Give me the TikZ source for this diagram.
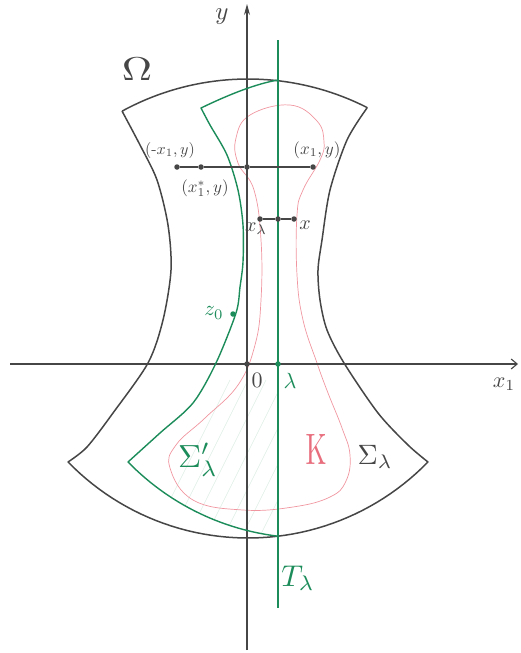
\documentclass[tikz,border=0pt]{standalone}
\usetikzlibrary{arrows.meta}
\definecolor{ink}{RGB}{70,70,70}
\definecolor{grn}{RGB}{28,140,90}
\definecolor{pnk}{RGB}{240,150,160}
\definecolor{kred}{RGB}{232,110,125}
\begin{document}
\begin{tikzpicture}[x=1pt,y=-1pt,
  axisline/.style={ink,line width=1.1pt},
  omegaline/.style={ink,line width=1.5pt,line join=round},
  grline/.style={grn,line width=1.4pt,line join=round},
  kline/.style={pnk,line width=0.7pt},
  hatch/.style={grn,opacity=0.15,line width=0.6pt},
  dotb/.style={circle,fill=ink,inner sep=0pt,minimum size=5.5pt},
  dotg/.style={circle,fill=grn,inner sep=0pt,minimum size=5.5pt},
  lab/.style={ink,inner sep=0pt,transform shape},
  glab/.style={grn,inner sep=0pt,transform shape}]
\useasboundingbox (0,0) rectangle (520,653);

% faint hatching
\begin{scope}
\clip (278,363) -- (216,363) -- (193,403) -- (160,433) -- (128,462)
  -- plot[domain=-45.8:-6.86,samples=30] ({308+251*sin(\x)},{287+251*cos(\x)}) -- cycle;
\foreach \k in {0,18,...,220} {
  \draw[hatch] (150+\k,540) -- (230+\k,380);
}
\end{scope}

% K region
\draw[kline] plot[smooth cycle,tension=0.7] coordinates {
  (290,105) (317,121) (324,142) (320,160) (303,190) (297,215) (297,275)
  (303,320) (317,363) (328,393) (342,428) (350,455) (346,481) (330,497)
  (293,507) (243,510) (193,500) (170,468) (176,445) (205,418) (238,385)
  (255,345) (261,300) (261,240) (254,190) (238,163) (236,138) (250,115)};

% Omega
\draw[omegaline]
  plot[domain=-28.6:26.9,samples=40] ({248+263*sin(\x)},{342-263*cos(\x)})
  -- plot[smooth] coordinates {(367,108) (347,140) (330,190) (322,240) (318,270)
     (320,300) (327,330) (344,363) (378,413) (408,445) (428,462)}
  -- plot[domain=45.8:-45.8,samples=50] ({248+251*sin(\x)},{287+251*cos(\x)})
  -- plot[smooth] coordinates {(68,462) (87,447) (113,413) (148,363) (163,320)
     (171,270) (168,225) (157,180) (140,145) (122,111)};

% axes
\coordinate (xl) at (10,364);
\coordinate (xr) at (518,364);
\coordinate (yb) at (247,650);
\coordinate (yt) at (247,4);
\draw[axisline,-{Straight Barb[length=6pt,width=10pt]}] (xl) -- (xr);
\draw[axisline,-{Stealth[length=11pt,width=6pt]}] (yb) -- (yt);

% green reflected region
\draw[grline] (278,80) .. controls (255,84) and (228,95) .. (201,108)
  -- plot[smooth] coordinates {(201,108) (210,125) (227,155) (238,190) (243,225)
     (243,262) (240,287) (236,313) (216,363) (193,403) (160,433) (128,462)}
  -- plot[domain=-45.8:-6.86,samples=30] ({308+251*sin(\x)},{287+251*cos(\x)});

% T_lambda
\coordinate (tt) at (278,40);
\coordinate (tb) at (278,608);
\draw[grline] (tt) -- (tb);

% points
\node[dotb] (o) at (247,364) {};
\node[dotg] (lam) at (278,364) {};
\node[dotg] (z0) at (233,314) {};
\node[dotb] (a1) at (177,167) {};
\node[dotb] (a2) at (201,167) {};
\node[dotb] (a3) at (247,167) {};
\node[dotb] (a4) at (313,167) {};
\node[dotb] (b1) at (260,219) {};
\node[dotb] (b2) at (278,219) {};
\node[dotb] (b3) at (294,219) {};
\draw[ink,line width=1.3pt] (a1) -- (a2) -- (a3) -- (a4);
\draw[ink,line width=1.3pt] (b1) -- (b2) -- (b3);

% labels (base 10pt, scaled)
\node[lab,xscale=4.2,yscale=3.3] (lomega) at (137,69) {$\Omega$};
\node[lab,scale=2.5] (ly) at (222,17) {$y$};
\node[lab,scale=2.2] (lx1) at (504,384) {$x_1$};
\node[lab,scale=1.6] (lm) at (170,150) {$(\mbox{-}x_1,y)$};
\node[lab,scale=1.7] (lp) at (317,150) {$(x_1,y)$};
\node[lab,scale=1.7] (ls) at (205,188) {$(x_1^{*},y)$};
\node[lab,scale=2.0] (lxl) at (256,229) {$x_\lambda$};
\node[lab,scale=2.0] (lx) at (305,225) {$x$};
\node[glab,scale=2.1] (lz) at (214,313) {$z_0$};
\node[lab,scale=2.2] (l0) at (257,380) {$0$};
\node[glab,scale=2.2] (ll) at (290,381) {$\lambda$};
\node[glab,scale=3.2] (lsp) at (198,460) {$\Sigma_\lambda'$};
\node[lab,scale=2.8] (lsl) at (375,457) {$\Sigma_\lambda$};
\node[inner sep=0pt,text=kred,transform shape,xscale=2.7,yscale=4.4] (lk) at (316,449) {$\mathrm{K}$};
\node[glab,scale=3.0] (lt) at (298,578) {$T_\lambda$};
\end{tikzpicture}
\end{document}
